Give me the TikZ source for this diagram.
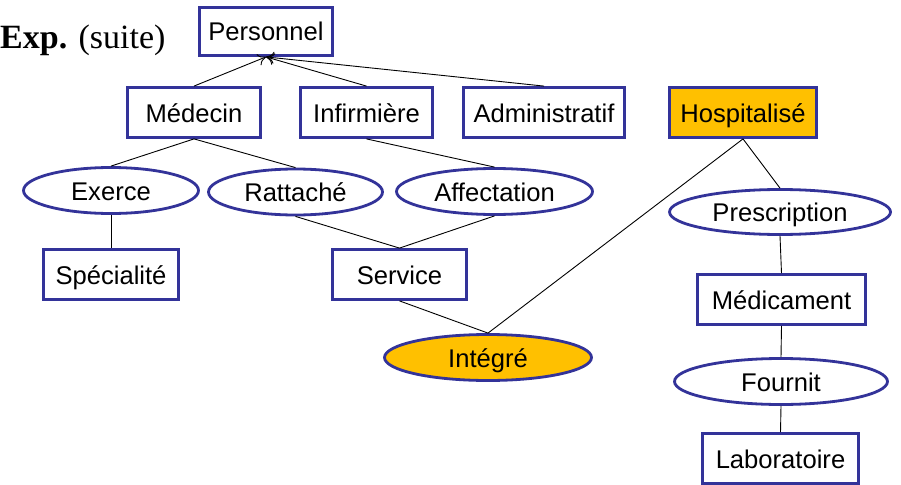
\documentclass[tikz,border=0pt]{standalone}
\usepackage{fontspec}
\setmainfont{Liberation Serif}
\setsansfont{Liberation Sans}
\usetikzlibrary{shapes.geometric,arrows.meta}
\definecolor{navy}{RGB}{51,51,153}
\definecolor{amber}{RGB}{255,192,0}
\tikzset{
  base/.style={draw=navy, line width=2.8pt, inner sep=0pt, fill=white,
    font=\sffamily\fontsize{25.6}{30}\selectfont, text height=19pt, text depth=0pt},
  entity/.style={base, rectangle},
  relation/.style={base, ellipse},
  hot/.style={fill=amber},
  link/.style={line width=0.9pt, black},
  isa/.style={link, -{To[length=8pt,width=12pt]}}
}
\begin{document}
\begin{tikzpicture}[x=1pt,y=-1pt]
\useasboundingbox (0,0) rectangle (901,484);

% title
\node[anchor=base west, inner sep=0pt, font=\fontsize{34}{40}\selectfont] (title) at (0,49)
  {\textbf{Exp.} (suite)};

% entities
\node[entity, minimum width=133pt, minimum height=48pt] (pers) at (266,31.5) {Personnel};
\node[entity, minimum width=133pt, minimum height=50pt] (med) at (194,112.5) {Médecin};
\node[entity, minimum width=132pt, minimum height=50pt] (inf) at (366.5,112.5) {Infirmière};
\node[entity, minimum width=161pt, minimum height=50pt] (adm) at (544,112.5) {Administratif};
\node[entity, hot, minimum width=147pt, minimum height=50pt] (hosp) at (743,112.5) {Hospitalisé};
\node[entity, minimum width=135pt, minimum height=50pt] (spec) at (111,274.5) {Spécialité};
\node[entity, minimum width=134pt, minimum height=50pt] (serv) at (399.5,274.5) {Service};
\node[entity, minimum width=168pt, minimum height=50pt] (medic) at (781.5,299.5) {Médicament};
\node[entity, minimum width=156pt, minimum height=50pt] (labo) at (780.5,458.5) {Laboratoire};

% relationships
\node[relation, minimum width=175pt, minimum height=46pt] (exer) at (111,190.5) {Exerce};
\node[relation, minimum width=174pt, minimum height=46pt] (ratt) at (295.5,192) {Rattaché};
\node[relation, minimum width=196pt, minimum height=46pt] (affe) at (494.5,191.5) {Affectation};
\node[relation, minimum width=221pt, minimum height=45pt] (presc) at (780,212) {Prescription};
\node[relation, hot, minimum width=207pt, minimum height=46pt] (integ) at (488,357.5) {Intégré};
\node[relation, minimum width=213pt, minimum height=46pt] (four) at (781,381.5) {Fournit};

% specialisation links
\draw[isa] (med.north) -- (pers.south);
\draw[isa] (inf.north) -- (pers.south);
\draw[isa] (adm.north) -- (pers.south);

% association links
\draw[link] (med.south) -- (exer.north);
\draw[link] (med.south) -- (ratt.north);
\draw[link] (inf.south) -- (affe.north);
\draw[link] (exer.south) -- (spec.north);
\draw[link] (ratt.south) -- (serv.north);
\draw[link] (affe.south) -- (serv.north);
\draw[link] (serv.south) -- (integ.north);
\draw[link] (hosp.south) -- (integ.north);
\draw[link] (hosp.south) -- (presc.north);
\draw[link] (presc.south) -- (medic.north);
\draw[link] (medic.south) -- (four.north);
\draw[link] (four.south) -- (labo.north);
\end{tikzpicture}
\end{document}
